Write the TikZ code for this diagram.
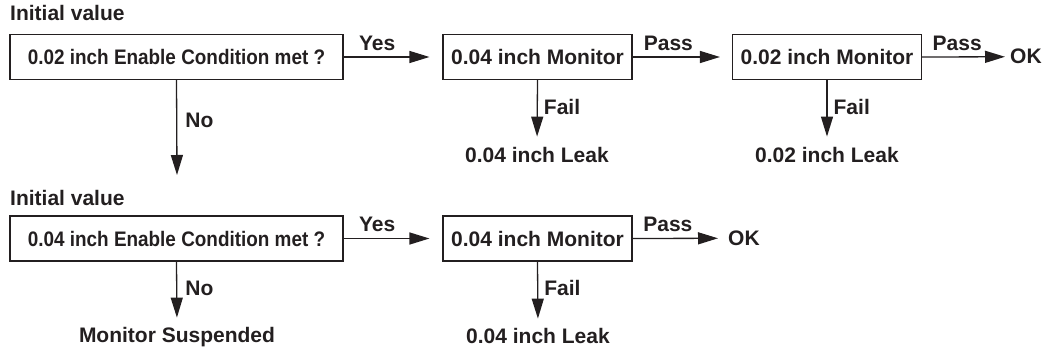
\documentclass[tikz,border=0pt]{standalone}
\usepackage{fontspec}
\setmainfont{Liberation Sans}
\newfontfamily\narrowfont[FakeStretch=0.9]{Liberation Sans}
\usetikzlibrary{arrows.meta}
\definecolor{cInk}{HTML}{231F20}
\newcommand{\flowfont}{\fontsize{21}{25}\selectfont\bfseries}
\tikzset{
  mon/.style={draw=cInk,line width=1.1pt,minimum width=189pt,minimum height=45pt,inner sep=0pt,font=\flowfont,text=cInk},
  cond/.style={mon,minimum width=333pt,font=\narrowfont\flowfont},
  txt/.style={inner sep=0pt,font=\flowfont,text=cInk},
  lbl/.style={inner sep=0pt,font=\flowfont,text=cInk},
  arr/.style={-{Triangle[length=20pt,width=12pt]},line width=1.3pt,cInk},
}
\begin{document}
\begin{tikzpicture}[x=1pt,y=1pt]
  \useasboundingbox (0,0) rectangle (1055,-352);
  % row 1: 0.02 inch check
  \node[txt,anchor=west] (init1) at (10,-13) {Initial value};
  \node[cond] (c02) at (176.5,-57) {0.02 inch Enable Condition met ?};
  \node[mon] (m04) at (537.5,-57) {0.04 inch Monitor};
  \node[mon] (m02) at (827,-57) {0.02 inch Monitor};
  \node[txt,anchor=base west] (ok1) at (1010,-64) {OK};
  \node[txt,anchor=base] (leak04) at (537,-163) {0.04 inch Leak};
  \node[txt,anchor=base] (leak02) at (827,-163) {0.02 inch Leak};
  \coordinate (no1) at (177,-175);
  \draw[arr,shorten >=13pt] (c02.east) -- node[lbl,above=6pt,pos=.34] {Yes} (m04.west);
  \draw[arr,shorten >=12pt] (m04.east) -- node[lbl,above=6pt,pos=.36] {Pass} (m02.west);
  \draw[arr,shorten >=5pt] (m02.east) -- node[lbl,above=6pt,pos=.4] {Pass} (ok1.west);
  \draw[arr,shorten >=11pt] (m04.south) -- node[lbl,right=6pt,pos=.4] {Fail} (leak04.north);
  \draw[arr,shorten >=11pt] (m02.south) -- node[lbl,right=6pt,pos=.4] {Fail} (leak02.north);
  \draw[arr] (c02.south) -- node[lbl,right=8pt,pos=.43] {No} (no1);
  % row 2: 0.04 inch check
  \node[txt,anchor=west] (init2) at (10,-198) {Initial value};
  \node[cond] (c04) at (176.5,-238.5) {0.04 inch Enable Condition met ?};
  \node[mon] (m04b) at (537.5,-238.5) {0.04 inch Monitor};
  \node[txt,anchor=base west] (ok2) at (728,-245.5) {OK};
  \node[txt,anchor=base] (leak04b) at (538,-344) {0.04 inch Leak};
  \node[txt,anchor=base] (susp) at (177,-343) {Monitor Suspended};
  \draw[arr,shorten >=13pt] (c04.east) -- node[lbl,above=6pt,pos=.34] {Yes} (m04b.west);
  \draw[arr,shorten >=10pt] (m04b.east) -- node[lbl,above=6pt,pos=.37] {Pass} (ok2.west);
  \draw[arr,shorten >=10pt] (m04b.south) -- node[lbl,right=6pt,pos=.4] {Fail} (leak04b.north);
  \draw[arr,shorten >=10pt] (c04.south) -- node[lbl,right=8pt,pos=.4] {No} (susp.north);
\end{tikzpicture}
\end{document}
